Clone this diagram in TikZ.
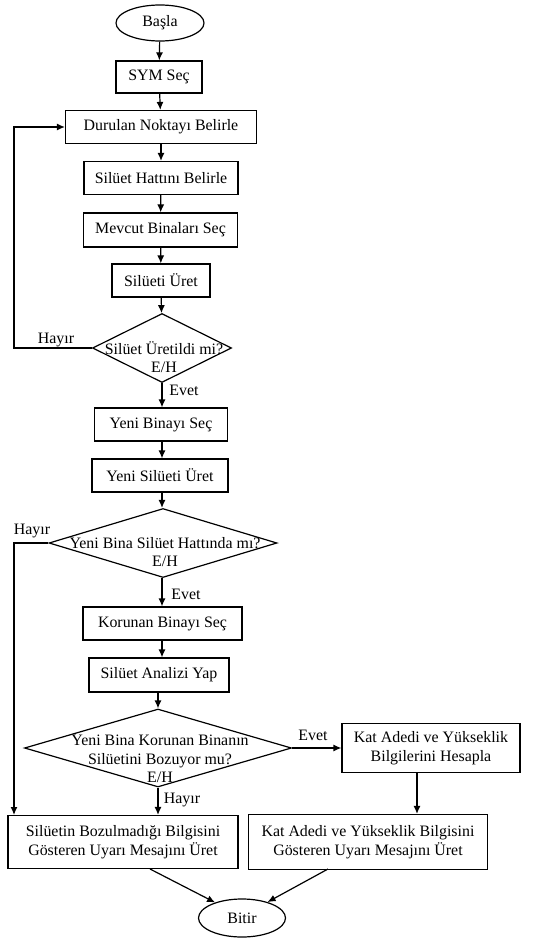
\documentclass[tikz,border=0pt]{standalone}
\usepackage{fontspec}
\setmainfont{Liberation Serif}
\usetikzlibrary{shapes.geometric,arrows.meta,calc}
\begin{document}
\begin{tikzpicture}[x=1pt,y=-1pt,
  every node/.style={font=\fontsize{15.9}{18.5}\selectfont},
  proc/.style={draw, line width=1.2pt, inner sep=0pt, align=center},
  term/.style={draw, ellipse, line width=1.2pt, inner sep=0pt},
  dec/.style={draw, diamond, line width=1.2pt, inner sep=0pt},
  txt/.style={inner sep=0pt, align=center},
  arr/.style={line width=1.2pt, -{Latex[length=8pt,width=7pt]}},
  ln/.style={line width=1.2pt}]
\useasboundingbox (0,0) rectangle (536,939);

% terminals and process boxes
\node[term, minimum width=88pt, minimum height=36pt] (start) at (160,23) {Başla};
\node[proc, minimum width=86pt, minimum height=32pt] (sym) at (159,77) {SYM Seç};
\node[proc, minimum width=191pt, minimum height=33pt] (dur) at (161,127) {Durulan Noktayı Belirle};
\node[proc, minimum width=154pt, minimum height=33pt] (hat) at (161,178) {Silüet Hattını Belirle};
\node[proc, minimum width=154pt, minimum height=34pt] (mev) at (160.5,230) {Mevcut Binaları Seç};
\node[proc, minimum width=98pt, minimum height=33pt] (sil) at (161,280.5) {Silüeti Üret};

% first decision
\node[dec, minimum width=139pt, minimum height=69pt] (d1) at (162,348) {};
\node[txt] (d1t) at (164,357) {Silüet Üretildi mi?\\E/H};

\node[proc, minimum width=133pt, minimum height=33pt] (yb) at (161,424.5) {Yeni Binayı Seç};
\node[proc, minimum width=136pt, minimum height=33pt] (ys) at (160,475.5) {Yeni Silüeti Üret};

% second decision
\node[dec, minimum width=228pt, minimum height=69pt] (d2) at (163,543) {};
\node[txt] (d2t) at (165,552) {Yeni Bina Silüet Hattında mı?\\E/H};

\node[proc, minimum width=159pt, minimum height=33pt] (kb) at (162.5,623.5) {Korunan Binayı Seç};
\node[proc, minimum width=140pt, minimum height=34pt] (sa) at (159,675) {Silüet Analizi Yap};

% third decision
\node[dec, minimum width=267pt, minimum height=78pt] (d3) at (158,748) {};
\node[txt] (d3t) at (160,759) {Yeni Bina Korunan Binanın\\Silüetini Bozuyor mu?\\E/H};

\node[proc, minimum width=178pt, minimum height=49pt] (kat) at (431,748) {Kat Adedi ve Yükseklik\\Bilgilerini Hesapla};
\node[proc, minimum width=230pt, minimum height=53pt] (ok) at (123,842) {Silüetin Bozulmadığı Bilgisini\\Gösteren Uyarı Mesajını Üret};
\node[proc, minimum width=239pt, minimum height=55pt] (warn) at (368,842) {Kat Adedi ve Yükseklik Bilgisini\\Gösteren Uyarı Mesajını Üret};
\node[term, minimum width=87pt, minimum height=38pt] (bitir) at (242,918) {Bitir};

% branch labels
\node[txt] (h1) at (56,340) {Hayır};
\node[txt] (e1) at (184,390) {Evet};
\node[txt] (h2) at (32,531) {Hayır};
\node[txt] (e2) at (186,594) {Evet};
\node[txt] (e3) at (313,735) {Evet};
\node[txt] (h3) at (182,800) {Hayır};

% helper points for the routed connectors
\coordinate (l1) at (14,348);
\coordinate (l2) at (14,815);
\coordinate (cx) at (162,0);
\coordinate (kx) at (417,0);
\coordinate (okout) at (150,869);
\coordinate (wout) at (328,869);

% main flow
\draw[arr] (start) -- (sym);
\draw[arr] (sym) -- (dur);
\draw[arr] (dur) -- (hat);
\draw[arr] (hat) -- (mev);
\draw[arr] (mev) -- (sil);
\draw[arr] (sil) -- (d1);
\draw[arr] (d1.south -| cx) -- (yb.north -| cx);
\draw[arr] (yb.south -| cx) -- (ys.north -| cx);
\draw[arr] (ys.south -| cx) -- (d2.north -| cx);
\draw[arr] (d2.south -| cx) -- (kb.north -| cx);
\draw[arr] (kb.south -| cx) -- (sa.north -| cx);
\draw[arr] (sa.south -| d3.north) -- (d3.north);
\draw[arr] (d3.east) -- (kat.west);
\draw[arr] (d3.south) -- (d3.south |- ok.north);
\draw[arr] (kat.south -| kx) -- (warn.north -| kx);

% loops back
\draw[arr] (d1.west) -- (l1) |- (dur.west);
\draw[arr] (d2.west) -| (l2);

% towards the end
\draw[arr] (okout) -- (bitir.150);
\draw[arr] (wout) -- (bitir.32);
\end{tikzpicture}
\end{document}
